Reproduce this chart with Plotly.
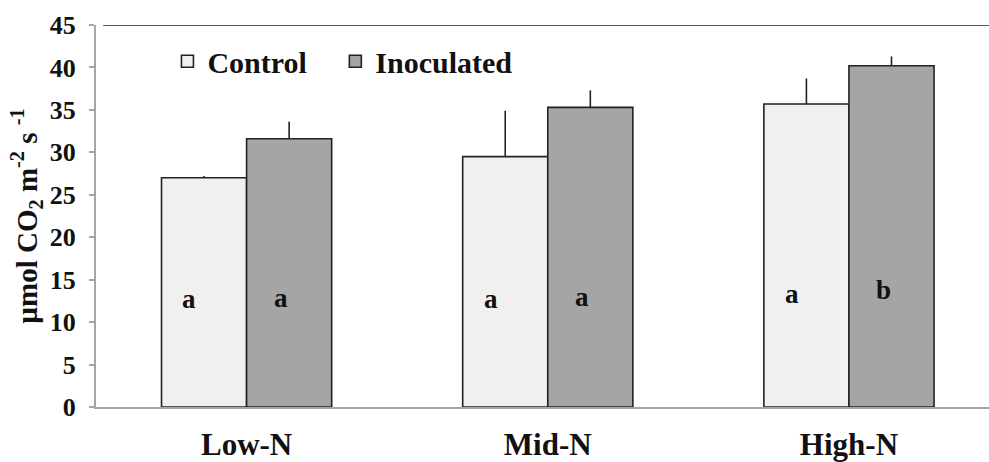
import plotly.graph_objects as go

# Photosynthetic rate by nitrogen level
categories = ["Low-N", "Mid-N", "High-N"]
control = [27.0, 29.5, 35.7]
control_err = [0.2, 5.4, 3.0]
inoculated = [31.6, 35.3, 40.2]
inoculated_err = [2.0, 2.0, 1.1]
control_letters = ["a", "a", "a"]
inoculated_letters = ["a", "a", "b"]
control_letter_y = [12.7, 12.7, 13.3]
inoculated_letter_y = [12.8, 12.9, 13.8]
y_ticks = [0, 5, 10, 15, 20, 25, 30, 35, 40, 45]

FONT = "Liberation Serif, Times New Roman, serif"
TEXT = "#111111"
CONTROL_FILL = "#f0f0f0"
INOC_FILL = "#a5a5a5"
AXIS_GRAY = "#a6a6a6"
EDGE = "#222222"


def bold(size):
    return dict(family=FONT, size=size, color=TEXT, weight="bold")


def legend_box(x):
    return dict(orientation="h", x=x, y=0.905, xanchor="left", yanchor="middle",
                bgcolor="rgba(0,0,0,0)", font=bold(30), itemwidth=30)


fig = go.Figure()
for name, vals, errs, fill, leg in [
    ("Control", control, control_err, CONTROL_FILL, "legend"),
    ("Inoculated", inoculated, inoculated_err, INOC_FILL, "legend2"),
]:
    fig.add_trace(go.Bar(
        name=name,
        x=categories,
        y=vals,
        legend=leg,
        marker=dict(color=fill, line=dict(color=EDGE, width=1.6)),
        error_y=dict(type="data", symmetric=False, array=errs,
                     arrayminus=[0] * len(errs), width=0,
                     thickness=1.6, color=EDGE),
    ))

# significance letters inside the bars
for i in range(len(categories)):
    fig.add_annotation(x=i - 0.19, y=control_letter_y[i], text=control_letters[i],
                       showarrow=False, font=bold(27), xref="x", yref="y")
    fig.add_annotation(x=i + 0.115, y=inoculated_letter_y[i], text=inoculated_letters[i],
                       showarrow=False, font=bold(27), xref="x", yref="y")

# top frame line
fig.add_shape(type="line", xref="paper", yref="y", x0=0.008, x1=1, y0=45, y1=45,
              line=dict(color=EDGE, width=1.6))

fig.update_layout(
    width=989, height=462,
    margin=dict(l=96, r=0, t=25, b=48),
    paper_bgcolor="white", plot_bgcolor="white",
    barmode="group", bargap=0.435, bargroupgap=0,
    font=dict(family=FONT, color=TEXT),
    showlegend=True,
    legend=legend_box(0.08),
    legend2=legend_box(0.268),
    xaxis=dict(
        type="category", range=[-0.5, 2.465],
        showline=True, linecolor=AXIS_GRAY, linewidth=2,
        ticks="", showgrid=False, zeroline=False,
        tickfont=bold(31),
        ticklabelstandoff=9,
    ),
    yaxis=dict(
        range=[0, 45], tickvals=y_ticks,
        showline=True, linecolor=AXIS_GRAY, linewidth=2,
        ticks="outside", ticklen=5, tickcolor=AXIS_GRAY, tickwidth=1.5,
        showgrid=False, zeroline=False,
        tickfont=bold(26),
        ticklabelstandoff=8,
        title=dict(text="µmol CO<sub>2</sub> m<sup>-2</sup> s <sup>-1</sup>",
                   font=bold(29), standoff=4),
    ),
)

fig.write_html("out.html")
